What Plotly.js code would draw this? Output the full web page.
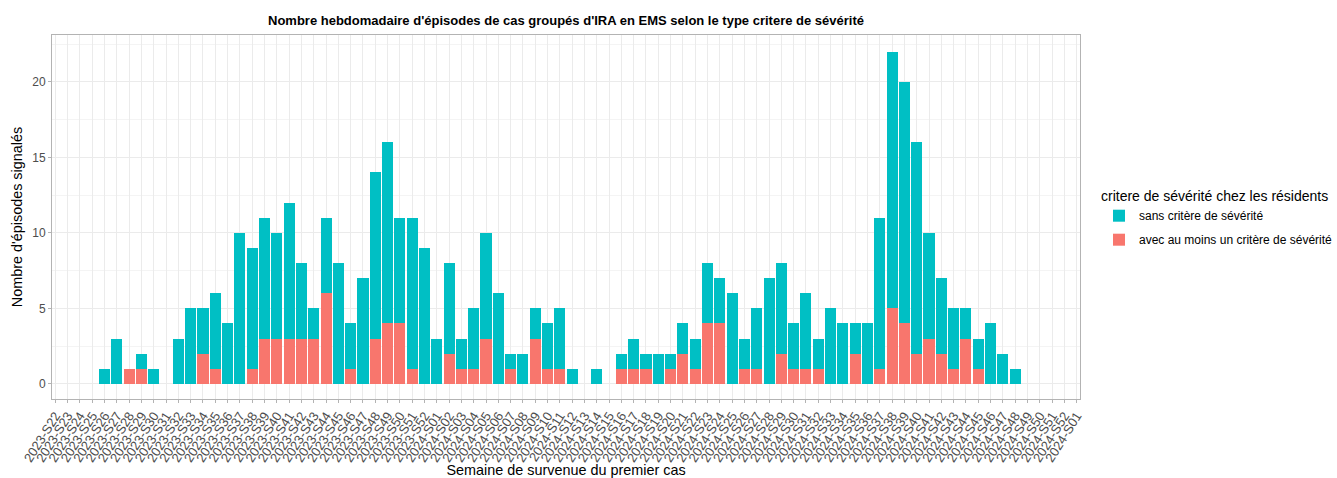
<!DOCTYPE html>
<html>
<head>
<meta charset="utf-8">
<script src="https://cdn.plot.ly/plotly-3.0.1.min.js"></script>
<style>html,body{margin:0;padding:0;background:#fff;}#chart{width:1337px;height:478px;}</style>
</head>
<body>
<div id="chart"></div>
<script>
// Week labels (the last one is labelled "2024-S01" in the source chart)
const weeks = [
  "2023-S22","2023-S23","2023-S24","2023-S25","2023-S26","2023-S27","2023-S28","2023-S29","2023-S30","2023-S31",
  "2023-S32","2023-S33","2023-S34","2023-S35","2023-S36","2023-S37","2023-S38","2023-S39","2023-S40","2023-S41",
  "2023-S42","2023-S43","2023-S44","2023-S45","2023-S46","2023-S47","2023-S48","2023-S49","2023-S50","2023-S51",
  "2023-S52",
  "2024-S01","2024-S02","2024-S03","2024-S04","2024-S05","2024-S06","2024-S07","2024-S08","2024-S09","2024-S10",
  "2024-S11","2024-S12","2024-S13","2024-S14","2024-S15","2024-S16","2024-S17","2024-S18","2024-S19","2024-S20",
  "2024-S21","2024-S22","2024-S23","2024-S24","2024-S25","2024-S26","2024-S27","2024-S28","2024-S29","2024-S30",
  "2024-S31","2024-S32","2024-S33","2024-S34","2024-S35","2024-S36","2024-S37","2024-S38","2024-S39","2024-S40",
  "2024-S41","2024-S42","2024-S43","2024-S44","2024-S45","2024-S46","2024-S47","2024-S48","2024-S49","2024-S50",
  "2024-S51","2024-S52","2024-S01"
];

// Episodes with at least one severity criterion
const avecCritere = [
  0,0,0,0,0,0,1,1,0,0,
  0,0,2,1,0,0,1,3,3,3,
  3,3,6,0,1,0,3,4,4,1,
  0,
  0,2,1,1,3,0,1,0,3,1,
  1,0,0,0,0,1,1,1,0,1,
  2,1,4,4,0,1,1,0,2,1,
  1,1,0,0,2,0,1,5,4,2,
  3,2,1,3,1,0,0,0,0,0,
  0,0,0
];

// Episodes without severity criterion
const sansCritere = [
  0,0,0,0,1,3,0,1,1,0,
  3,5,3,5,4,10,8,8,7,9,
  5,2,5,8,3,7,11,12,7,10,
  9,
  3,6,2,4,7,6,1,2,2,3,
  4,1,0,1,0,1,2,1,2,1,
  2,2,4,3,6,2,4,7,6,3,
  5,2,5,4,2,4,10,17,16,14,
  7,5,4,2,2,4,2,1,0,0,
  0,0,0
];

const seriesNames = ["avec au moins un critère de sévérité", "sans critère de sévérité"];
const seriesColors = ["#F8766D", "#00BFC4"];
const legendTitle = "critere de sévérité chez les résidents";
const yTicks = [0, 5, 10, 15, 20];

const xpos = weeks.map((w, i) => i);

const font = "Liberation Sans, Arial, sans-serif";

const traces = [
  {
    type: "bar", name: seriesNames[0], x: xpos, y: avecCritere,
    marker: {color: seriesColors[0], line: {width: 0}}, width: 0.9,
    legendgroup: "a", legendrank: 2, hoverinfo: "skip"
  },
  {
    type: "bar", name: seriesNames[1], x: xpos, y: sansCritere,
    marker: {color: seriesColors[1], line: {width: 0}}, width: 0.9,
    legendgroup: "b", legendrank: 1, hoverinfo: "skip"
  }
];

const layout = {
  width: 1337, height: 478,
  barmode: "stack",
  paper_bgcolor: "#ffffff",
  plot_bgcolor: "#ffffff",
  margin: {l: 52, r: 257, t: 35, b: 79, pad: 0},
  font: {family: font, size: 12, color: "#4d4d4d"},
  title: {
    text: "Nombre hebdomadaire d'épisodes de cas groupés d'IRA en EMS selon le type critere de sévérité",
    font: {family: font, size: 13, color: "#000000", weight: "bold"},
    x: 0.5, xref: "paper", xanchor: "center",
    y: 1 - 20 / 478, yref: "container", yanchor: "middle"
  },
  xaxis: {
    range: [-0.27, 83.27],
    tickmode: "array",
    tickvals: xpos,
    ticktext: weeks,
    tickangle: -58,
    tickfont: {family: font, size: 13, color: "#4d4d4d"},
    ticks: "outside", ticklen: 3, tickcolor: "#b3b3b3", tickwidth: 1,
    showgrid: true, gridcolor: "#ebebeb", gridwidth: 1,
    zeroline: false,
    showline: true, linecolor: "#b3b3b3", linewidth: 1, mirror: true,
    automargin: false,
    title: {text: "Semaine de survenue du premier cas", font: {family: font, size: 14.4, color: "#000000"}, standoff: 2}
  },
  yaxis: {
    range: [-1.0, 23.1],
    tickmode: "array",
    tickvals: yTicks,
    ticktext: yTicks.map(String),
    tickfont: {family: font, size: 12, color: "#4d4d4d"},
    ticks: "outside", ticklen: 3, tickcolor: "#b3b3b3", tickwidth: 1,
    showgrid: true, gridcolor: "#ebebeb", gridwidth: 1,
    minor: {tickmode: "linear", tick0: 2.5, dtick: 5, showgrid: true, gridcolor: "#f4f4f4", gridwidth: 1, ticks: ""},
    zeroline: false,
    showline: true, linecolor: "#b3b3b3", linewidth: 1, mirror: true,
    automargin: false,
    title: {text: "Nombre d'épisodes signalés", font: {family: font, size: 14.4, color: "#000000"}, standoff: 6}
  },
  showlegend: true,
  legend: {
    xref: "container", yref: "container",
    x: 1099 / 1337, xanchor: "left",
    y: 1 - 183 / 478, yanchor: "top",
    traceorder: "grouped",
    tracegroupgap: 5,
    bgcolor: "rgba(0,0,0,0)",
    font: {family: font, size: 12, color: "#000000"},
    title: {text: legendTitle, font: {family: font, size: 14, color: "#000000"}},
    itemwidth: 30
  }
};

Plotly.newPlot("chart", traces, layout, {staticPlot: true, displayModeBar: false});
</script>
</body>
</html>
